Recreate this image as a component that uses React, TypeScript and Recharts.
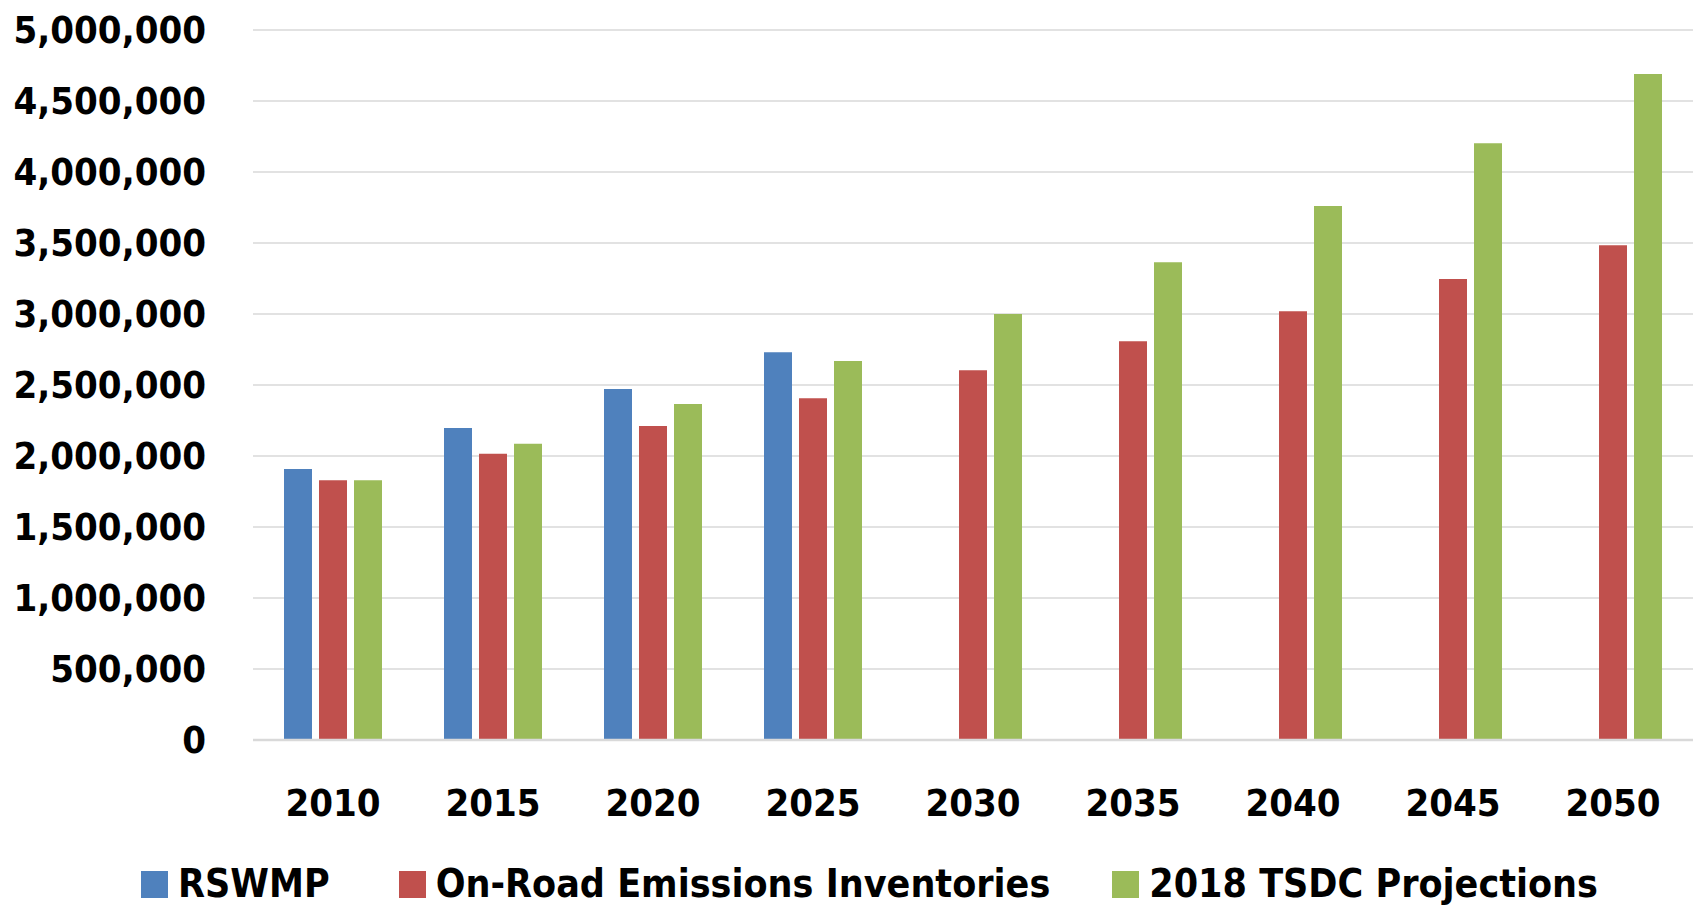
import React from "react"
import { BarChart, Bar, XAxis, YAxis, CartesianGrid, Legend } from "recharts"

const years = ["2010", "2015", "2020", "2025", "2030", "2035", "2040", "2045", "2050"]
const rswmp = [1908000, 2197000, 2472000, 2730000, null, null, null, null, null]
const onRoad = [1829000, 2016000, 2211000, 2406000, 2603000, 2808000, 3019000, 3246000, 3484000]
const tsdc = [1829000, 2087000, 2366000, 2669000, 3000000, 3364000, 3761000, 4202000, 4690000]
const yTicks = [0, 500000, 1000000, 1500000, 2000000, 2500000, 3000000, 3500000, 4000000, 4500000, 5000000]
const seriesNames = ["RSWMP", "On-Road Emissions Inventories", "2018 TSDC Projections"]

const data = years.map((year, i) => ({
  year,
  rswmp: rswmp[i],
  onRoad: onRoad[i],
  tsdc: tsdc[i],
}))

const font = "'DejaVu Sans Condensed', 'DejaVu Sans', sans-serif"
const tickStyle = { fontFamily: font, fontWeight: 700, fontSize: 38, fill: "#000" }
const legendGaps = [0, 69, 62]

function LegendContent({ payload }: any) {
  const items = [...(payload || [])].sort(
    (a: any, b: any) => seriesNames.indexOf(a.value) - seriesNames.indexOf(b.value)
  )
  return (
    <div style={{ height: 40, display: "flex", alignItems: "center", paddingLeft: 141 }}>
      {items.map((item: any, i: number) => (
        <div key={item.value} style={{ display: "flex", alignItems: "center", marginLeft: legendGaps[i] }}>
          <span style={{ width: 27, height: 27, background: item.color, display: "inline-block", marginRight: 10 }} />
          <span style={{ fontFamily: font, fontWeight: 700, fontSize: 39, color: "#000", lineHeight: "40px" }}>
            {item.value}
          </span>
        </div>
      ))}
    </div>
  )
}

export default function App() {
  return (
    <div style={{ position: "absolute", left: 0, top: 0, background: "#fff" }}>
      <BarChart
        width={1694}
        height={906}
        data={data}
        margin={{ top: 30, right: 1, left: 0, bottom: 96 }}
        barSize={28}
        barGap={7}
      >
        <CartesianGrid vertical={false} stroke="#d9d9d9" strokeWidth={1.5} />
        <XAxis
          dataKey="year"
          height={30}
          tick={tickStyle}
          tickLine={false}
          tickSize={0}
          tickMargin={49}
          axisLine={{ stroke: "#d9d9d9", strokeWidth: 2.5 }}
        />
        <YAxis
          width={253}
          domain={[0, 5000000]}
          ticks={yTicks}
          tick={tickStyle}
          tickLine={false}
          tickSize={0}
          tickMargin={47}
          axisLine={false}
          tickFormatter={(v: number) => v.toLocaleString("en-US")}
        />
        <Legend verticalAlign="bottom" wrapperStyle={{ bottom: 2, left: 0 }} content={<LegendContent />} />
        <Bar dataKey="rswmp" name={seriesNames[0]} fill="#4F81BD" isAnimationActive={false} />
        <Bar dataKey="onRoad" name={seriesNames[1]} fill="#C0504D" isAnimationActive={false} />
        <Bar dataKey="tsdc" name={seriesNames[2]} fill="#9BBB59" isAnimationActive={false} />
      </BarChart>
    </div>
  )
}
